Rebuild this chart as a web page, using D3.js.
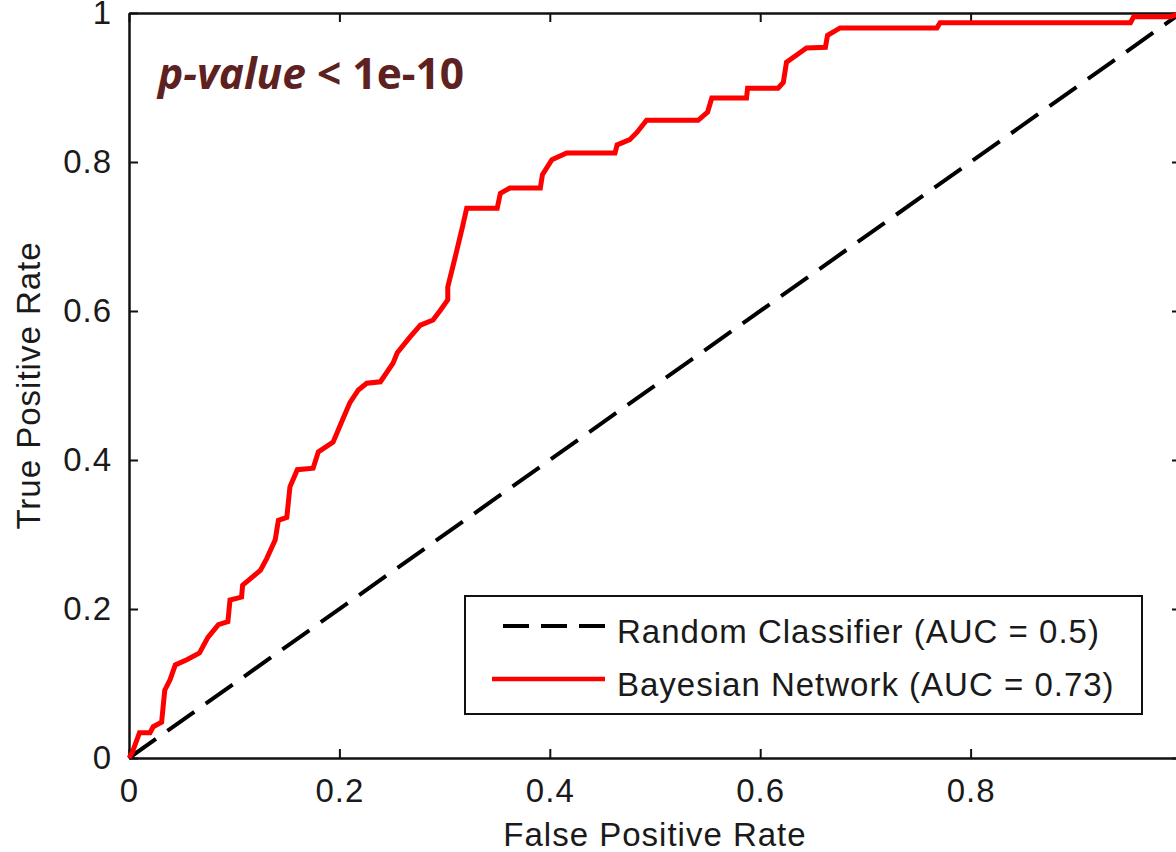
<!DOCTYPE html>
<html>
<head>
<meta charset="utf-8">
<script src="https://cdn.jsdelivr.net/npm/d3@7"></script>
<style>
  html, body { margin: 0; padding: 0; background: #fff; overflow: hidden; }
  svg { display: block; }
  .tick text { font-family: "Liberation Sans", Arial, sans-serif; font-size: 33px; letter-spacing: 1px; fill: #1a1a1a; }
</style>
</head>
<body>
<div id="chart"></div>
<script>
// ROC curve of the Bayesian network
const fprValues = [0, 0.003, 0.010, 0.020, 0.023, 0.031, 0.034, 0.039, 0.044, 0.055, 0.067, 0.075, 0.085, 0.094,
  0.096, 0.107, 0.108, 0.125, 0.131, 0.139, 0.142, 0.150, 0.153, 0.160, 0.175, 0.180, 0.194, 0.203, 0.210,
  0.218, 0.226, 0.239, 0.251, 0.255, 0.267, 0.277, 0.289, 0.296, 0.303, 0.303, 0.310, 0.317, 0.321, 0.350,
  0.353, 0.362, 0.391, 0.393, 0.402, 0.416, 0.462, 0.464, 0.476, 0.483, 0.492, 0.541, 0.550, 0.554, 0.587,
  0.588, 0.617, 0.622, 0.625, 0.635, 0.644, 0.662, 0.664, 0.676, 0.768, 0.771, 0.952, 0.955, 0.990, 1];
const tprValues = [0, 0.007, 0.034, 0.034, 0.042, 0.048, 0.091, 0.105, 0.125, 0.132, 0.141, 0.162, 0.179, 0.183,
  0.212, 0.216, 0.232, 0.252, 0.268, 0.293, 0.319, 0.323, 0.364, 0.387, 0.389, 0.411, 0.424, 0.454, 0.477,
  0.494, 0.503, 0.505, 0.530, 0.544, 0.565, 0.581, 0.588, 0.601, 0.615, 0.632, 0.672, 0.713, 0.738, 0.738,
  0.758, 0.765, 0.765, 0.783, 0.803, 0.812, 0.812, 0.823, 0.830, 0.840, 0.856, 0.856, 0.867, 0.886, 0.886,
  0.899, 0.899, 0.907, 0.934, 0.944, 0.953, 0.954, 0.970, 0.980, 0.980, 0.987, 0.987, 0.995, 0.995, 1];

// random classifier diagonal
const randomFpr = [0, 1];
const randomTpr = [0, 1];

const tickValues = [0, 0.2, 0.4, 0.6, 0.8, 1];
const legendLabels = ["Random Classifier (AUC = 0.5)", "Bayesian Network (AUC = 0.73)"];
const titleItalic = "p-value";
const titleRest = " < 1e-10";

const width = 1176, height = 852;
// plot box (the right edge sits just past the window, as in the original)
const margin = { top: 13, left: 129, right: 1181, bottom: 758 };

const svg = d3.select("#chart").append("svg")
  .attr("width", width)
  .attr("height", height);

const x = d3.scaleLinear().domain([0, 1]).range([margin.left, margin.right]);
const y = d3.scaleLinear().domain([0, 1]).range([margin.bottom, margin.top]);

const fmt = d => String(+d.toFixed(1));
// the "1" under the right edge is off the picture in the original
const fmtX = d => (d === 1 ? "" : fmt(d));

// axes, ticks pointing inward on all four sides
const xAxis = svg.append("g")
  .attr("transform", `translate(0,${margin.bottom})`)
  .call(d3.axisBottom(x).tickValues(tickValues).tickFormat(fmtX).tickSizeInner(-9).tickSizeOuter(0).tickPadding(21));
const yAxis = svg.append("g")
  .attr("transform", `translate(${margin.left},0)`)
  .call(d3.axisLeft(y).tickValues(tickValues).tickFormat(fmt).tickSizeInner(-9).tickSizeOuter(0).tickPadding(17));
const xTop = svg.append("g")
  .attr("transform", `translate(0,${margin.top})`)
  .call(d3.axisTop(x).tickValues(tickValues).tickFormat("").tickSizeInner(-9).tickSizeOuter(0));
const yRight = svg.append("g")
  .attr("transform", `translate(${margin.right},0)`)
  .call(d3.axisRight(y).tickValues(tickValues).tickFormat("").tickSizeInner(-9).tickSizeOuter(0));

[xAxis, yAxis, xTop, yRight].forEach(g => {
  g.select(".domain").attr("stroke", "#111").attr("stroke-width", 2.5);
  g.selectAll(".tick line").attr("stroke", "#111").attr("stroke-width", 2);
});

// axis titles
svg.append("text")
  .attr("x", (margin.left + margin.right) / 2)
  .attr("y", 846)
  .attr("text-anchor", "middle")
  .style("font-family", "'Liberation Sans', Arial, sans-serif")
  .style("font-size", "33px")
  .style("letter-spacing", "1px")
  .attr("fill", "#1a1a1a")
  .text("False Positive Rate");

svg.append("text")
  .attr("transform", `translate(40,${(margin.top + margin.bottom) / 2}) rotate(-90)`)
  .attr("text-anchor", "middle")
  .style("font-family", "'Liberation Sans', Arial, sans-serif")
  .style("font-size", "33px")
  .style("letter-spacing", "1px")
  .attr("fill", "#1a1a1a")
  .text("True Positive Rate");

// curves
const line = d3.line().x(d => x(d[0])).y(d => y(d[1]));

svg.append("path")
  .datum(d3.zip(randomFpr, randomTpr))
  .attr("d", line)
  .attr("fill", "none")
  .attr("stroke", "#000")
  .attr("stroke-width", 4)
  .attr("stroke-dasharray", "33,14");

svg.append("path")
  .datum(d3.zip(fprValues, tprValues))
  .attr("d", line)
  .attr("fill", "none")
  .attr("stroke", "#ff0000")
  .attr("stroke-width", 5)
  .attr("stroke-linejoin", "miter");

// legend
const legend = svg.append("g");
legend.append("rect")
  .attr("x", 465).attr("y", 596)
  .attr("width", 677).attr("height", 118)
  .attr("fill", "#fff")
  .attr("stroke", "#111")
  .attr("stroke-width", 2);

const legendStyles = [
  { stroke: "#000", dash: "26,12", x1: 503, y: 626, width: 4 },
  { stroke: "#ff0000", dash: null, x1: 492, y: 679, width: 4.5 }
];
legendLabels.forEach((label, i) => {
  const s = legendStyles[i];
  legend.append("line")
    .attr("x1", s.x1).attr("x2", 605)
    .attr("y1", s.y).attr("y2", s.y)
    .attr("stroke", s.stroke)
    .attr("stroke-width", s.width)
    .attr("stroke-dasharray", s.dash);
  legend.append("text")
    .attr("x", 617)
    .attr("y", s.y + 17)
    .style("font-family", "'Liberation Sans', Arial, sans-serif")
    .style("font-size", "33px")
    .style("letter-spacing", "1px")
    .attr("fill", "#1a1a1a")
    .text(label);
});

// p-value annotation
const note = svg.append("text")
  .attr("x", 158)
  .attr("y", 89)
  .style("font-family", "'Open Sans', sans-serif")
  .style("font-weight", "bold")
  .style("font-size", "42.5px")
  .attr("fill", "#5e2121");
note.append("tspan").style("font-style", "italic").text(titleItalic);
note.append("tspan").text(titleRest);
</script>
</body>
</html>
